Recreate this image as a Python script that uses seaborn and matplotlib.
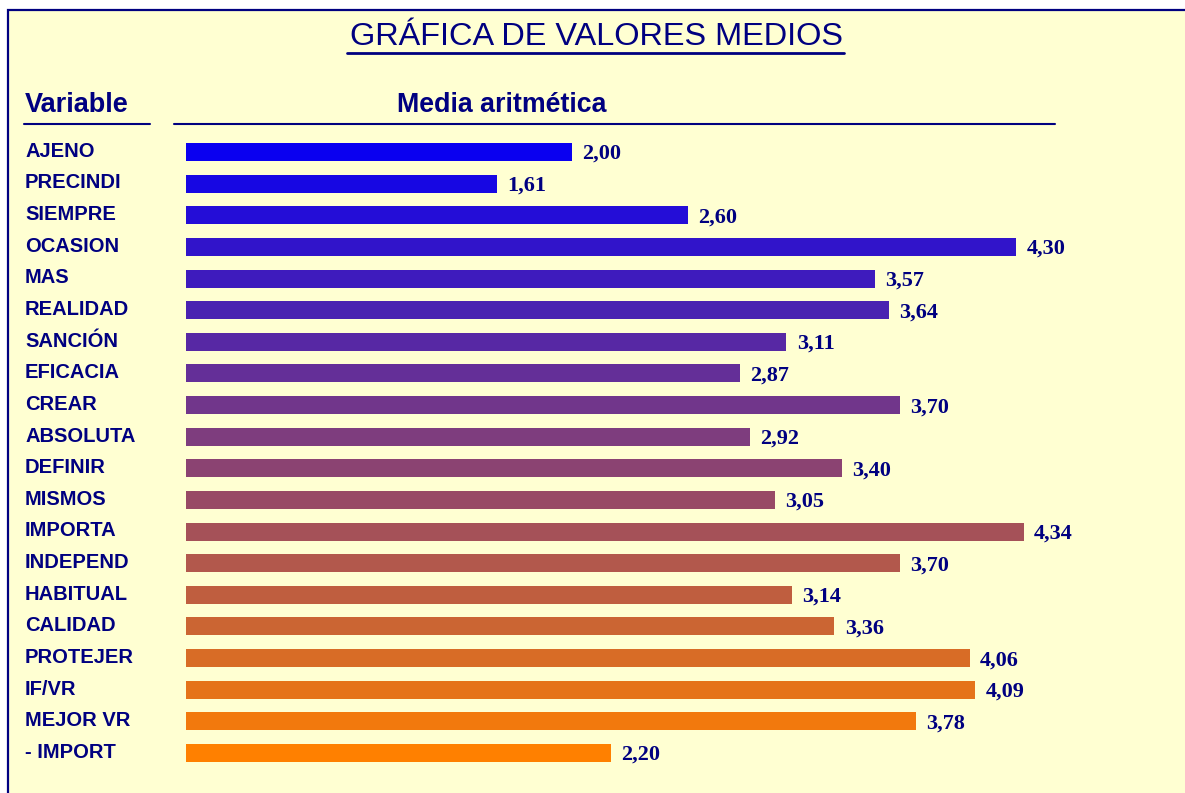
import matplotlib
matplotlib.use("Agg")
import matplotlib.pyplot as plt
import matplotlib.transforms as mtransforms
from matplotlib.patches import Rectangle
from matplotlib.lines import Line2D
import numpy as np
import pandas as pd
import seaborn as sns

categories = ["AJENO", "PRECINDI", "SIEMPRE", "OCASION", "MAS", "REALIDAD",
              "SANCIÓN", "EFICACIA", "CREAR", "ABSOLUTA", "DEFINIR", "MISMOS",
              "IMPORTA", "INDEPEND", "HABITUAL", "CALIDAD", "PROTEJER", "IF/VR",
              "MEJOR VR", "- IMPORT"]
values = [2.00, 1.61, 2.60, 4.30, 3.57, 3.64, 3.11, 2.87, 3.70, 2.92, 3.40,
          3.05, 4.34, 3.70, 3.14, 3.36, 4.06, 4.09, 3.78, 2.20]
title = "GRÁFICA DE VALORES MEDIOS"
header_var = "Variable"
header_val = "Media aritmética"

W, H = 1185, 793
NAVY = "#000080"
BG = "#FFFFD2"

sns.set_theme(style="white")
plt.rcParams["font.family"] = ["Liberation Sans", "DejaVu Sans"]

fig = plt.figure(figsize=(W / 100, H / 100), dpi=100, facecolor="white")

# panel background with border (top & left visible)
fig.patches.append(Rectangle((8 / W, -0.05), 1.2, 1 - 9.5 / H + 0.05,
                             transform=fig.transFigure, facecolor=BG,
                             edgecolor=NAVY, linewidth=1.6, zorder=-5))

# gradient colours blue -> orange
c0 = np.array([10, 0, 240]) / 255
c1 = np.array([255, 128, 0]) / 255
n = len(categories)
colors = [tuple(c0 + (c1 - c0) * i / (n - 1)) for i in range(n)]

df = pd.DataFrame({"cat": categories, "val": values})

px_per_unit = 193.0
x0_px = 186
row = 31.63
top_px = 152 - row / 2
bot_px = 753 + row / 2
ax = fig.add_axes([x0_px / W, 1 - bot_px / H, (W - x0_px) / W, (bot_px - top_px) / H])
ax.set_facecolor("none")
ax.set_zorder(1)

sns.barplot(data=df, x="val", y="cat", hue="cat", palette=colors, legend=False,
            orient="h", width=0.57, linewidth=0, saturation=1, ax=ax)
ax.set_xlim(0, (W - x0_px) / px_per_unit)
ax.set_ylim(n - 0.5, -0.5)
for s in ax.spines.values():
    s.set_visible(False)
ax.set_xticks([])
ax.set_yticks([])
ax.set_xlabel("")
ax.set_ylabel("")

# value labels
for i, v in enumerate(values):
    ax.annotate(f"{v:.2f}".replace(".", ","), xy=(v, i), xytext=(7.5, -1.5),
                textcoords="offset points", ha="left", va="center",
                fontsize=16, fontweight="bold", color=NAVY,
                family=["Liberation Serif", "DejaVu Serif"])

# category labels
trans = mtransforms.blended_transform_factory(fig.transFigure, ax.transData)
for i, c in enumerate(categories):
    ax.text(25 / W, i - 0.02, c, transform=trans, ha="left", va="center",
            fontsize=14.5, fontweight="bold", color=NAVY, clip_on=False)

# title and headers
fig.text(596 / W, 1 - 37 / H, title, ha="center", va="center",
         fontsize=23.4, color=NAVY)
fig.add_artist(Line2D([347 / W, 844 / W], [1 - 52.5 / H] * 2,
                      transform=fig.transFigure, color=NAVY, linewidth=2))
fig.text(25 / W, 1 - 105 / H, header_var, ha="left", va="center",
         fontsize=19.5, fontweight="bold", color=NAVY)
fig.text(502 / W, 1 - 105 / H, header_val, ha="center", va="center",
         fontsize=19.3, fontweight="bold", color=NAVY)
fig.add_artist(Line2D([24 / W, 150 / W], [1 - 124 / H] * 2,
                      transform=fig.transFigure, color=NAVY, linewidth=1.5))
fig.add_artist(Line2D([174 / W, 1055 / W], [1 - 124 / H] * 2,
                      transform=fig.transFigure, color=NAVY, linewidth=1.5))

fig.savefig("out.png", dpi=100, facecolor=fig.get_facecolor())
